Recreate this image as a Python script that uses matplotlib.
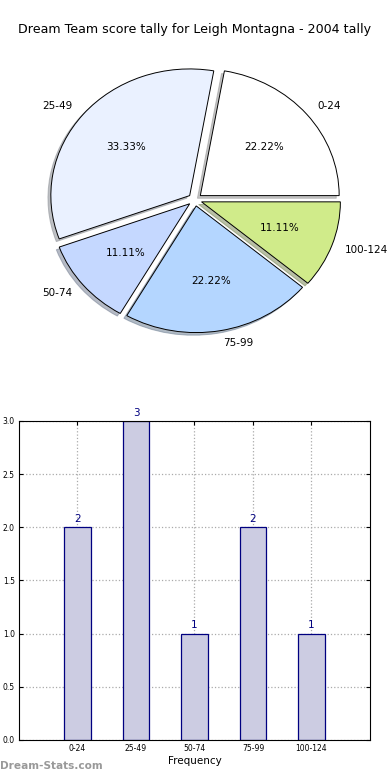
import matplotlib
matplotlib.use("Agg")
import matplotlib.pyplot as plt

# score ranges and how many games fell in each
ranges = ['0-24', '25-49', '50-74', '75-99', '100-124']
counts = [2, 3, 1, 2, 1]
pie_colors = ['#ffffff', '#eaf1ff', '#c5d8ff', '#b4d6ff', '#d0eb8a']
title = "Dream Team score tally for Leigh Montagna - 2004 tally"

fig = plt.figure(figsize=(3.9, 7.8), dpi=100)
fig.text(0.5, 0.962, title, ha='center', va='center', fontsize=9.1)

# Pie
ax1 = fig.add_axes([0.055, 0.541, 0.89, 0.406])
wedges, texts, autotexts = ax1.pie(counts, labels=ranges, colors=pie_colors,
                                   explode=[0.05] * len(counts),
                                   shadow={'ox': -0.015, 'oy': -0.015, 'shade': 0.45},
                                   autopct='%.2f%%', startangle=0,
                                   wedgeprops={'edgecolor': 'black', 'linewidth': 0.7},
                                   textprops={'fontsize': 7.5})
ax1.set_aspect('auto')
ax1.set_xlim(-1.25, 1.25)
ax1.set_ylim(-1.25, 1.25)

# Bars
ax2 = fig.add_axes([0.0487, 0.0513, 0.9, 0.409])
xs = list(range(1, len(ranges) + 1))
bars = ax2.bar(xs, counts, width=0.45, color='#ccccE2', edgecolor='#000080', linewidth=0.9, zorder=2)
for x, c in zip(xs, counts):
    ax2.text(x, c + 0.03, str(c), ha='center', va='bottom', color='#000080', fontsize=7.5)
ax2.set_xlim(0, 6)
ax2.set_ylim(0, 3)
ax2.set_xticks(xs)
ax2.set_xticklabels(ranges, fontsize=5.5)
ax2.set_yticks([0, 0.5, 1.0, 1.5, 2.0, 2.5, 3.0])
ax2.set_yticklabels(['0.0', '0.5', '1.0', '1.5', '2.0', '2.5', '3.0'], fontsize=5.5)
ax2.tick_params(direction='in', top=True, right=True, length=3, pad=3)
ax2.grid(True, linestyle=':', color='#aaaaaa', linewidth=0.9, zorder=3)
ax2.set_xlabel('Frequency', fontsize=7.5, labelpad=2)

fig.text(0.0, 0.012, 'Dream-Stats.com', color='#999999', fontsize=7.6, fontweight='bold', ha='left', va='bottom')

fig.savefig('out.png', dpi=100)
